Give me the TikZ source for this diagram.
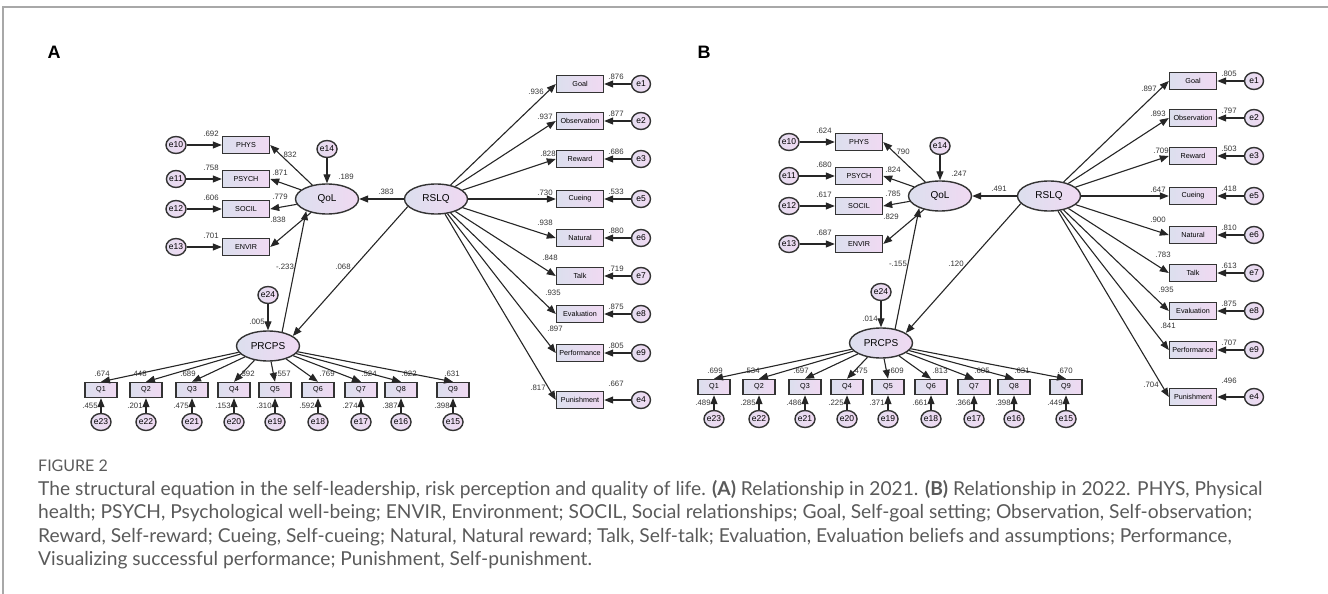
\documentclass[tikz,border=0pt]{standalone}
\usepackage{fontspec}
\setmainfont{Liberation Sans}
\newfontfamily\capfont{Lato}
\usetikzlibrary{arrows.meta, shapes.geometric}
\definecolor{fillL}{HTML}{DCDFEE}
\definecolor{fillR}{HTML}{F0D9F2}
\definecolor{edgegray}{HTML}{333333}
\definecolor{framegray}{HTML}{A8A8A8}
\definecolor{captxt}{HTML}{5A5A5A}
\tikzset{
  obs/.style={draw=edgegray, line width=1.4pt, left color=fillL, right color=fillR,
    minimum width=47pt, minimum height=17pt, inner sep=0pt, font=\fontsize{7.2}{8}\selectfont},
  qbox/.style={obs, minimum width=32pt, minimum height=15pt},
  latent/.style={ellipse, draw=edgegray, line width=1.4pt, left color=fillL, right color=fillR,
    minimum width=63pt, minimum height=30pt, inner sep=0pt, font=\fontsize{10}{11}\selectfont},
  err/.style={ellipse, draw=edgegray, line width=1.4pt, left color=fillL!60!fillR, right color=fillR,
    minimum width=19pt, minimum height=17pt, inner sep=0pt, font=\fontsize{8.5}{9}\selectfont},
  coef/.style={inner sep=0pt, font=\fontsize{7.8}{8}\selectfont, text=edgegray},
  arr/.style={-{Triangle[length=9pt,width=7pt]}, line width=1.1pt, draw=black!85},
  panellbl/.style={inner sep=0pt, font=\bfseries\fontsize{18}{18}\selectfont},
  capline/.style={anchor=base west, inner sep=0pt, text=captxt, font=\capfont\fontsize{19.2}{19}\selectfont}
}

\begin{document}
\begin{tikzpicture}[x=1pt, y=-1pt]
  \useasboundingbox (0,0) rectangle (1328,594);
  \draw[framegray, line width=1.5pt] (3,594) -- (3,7) -- (1328,7);

  % ---- Panel A: 2021 -------------------------------------------------------
  \node[panellbl] (labA) at (54,52) {A};
  \begin{scope}
    \node[latent] (aqol)   at (327,199) {QoL};
    \node[latent] (arslq)  at (436,199) {RSLQ};
    \node[latent] (aprcps) at (268,346) {PRCPS};
    \node[err] (ae14) at (327,149) {e14};
    \node[err] (ae24) at (268,295) {e24};

    \draw[arr] (ae14) -- (aqol);
    \draw[arr] (ae24) -- (aprcps);
    \draw[arr] (arslq) -- (aqol);
    \draw[arr] (aprcps.45) -- (aqol.210);
    \draw[arr] (arslq.195) -- (aprcps.22);

    \node[coef] (ar2qol) at (346,177) {.189};
    \node[coef] (ar2prc) at (257,322) {.005};
    \node[coef] (arq)    at (386,192) {.383};
    \node[coef] (apq)    at (285,267) {-.233};
    \node[coef] (arp)    at (343,267) {.068};

    % quality of life indicators
    \foreach \nm/\txt/\er/\y/\ld/\rr/\lx/\ly in {phys/PHYS/e10/145/.832/.692/289/155,
        psych/PSYCH/e11/179/.871/.758/280/173, socil/SOCIL/e12/209/.779/.606/280/197,
        envir/ENVIR/e13/247/.838/.701/278/220}{
      \node[obs] (a\nm) at (246,\y) {\txt};
      \node[err] (a\er) at (176,\y) {\er};
      \draw[arr] (a\er) -- (a\nm);
      \draw[arr] (aqol) -- (a\nm.east);
      \node[coef] (a\nm-r2) at (211,\y-11) {\rr};
      \node[coef] (a\nm-ld) at (\lx,\ly) {\ld};
    }

    % risk perception items
    \foreach \i/\x/\er/\ld/\rr/\lx in {1/101/e23/.674/.455/102, 2/146/e22/.448/.201/139,
        3/192/e21/.689/.475/188, 4/234/e20/.392/.153/247, 5/275/e19/.557/.310/283,
        6/318/e18/.769/.592/327, 7/361/e17/.524/.274/369, 8/401/e16/.622/.387/409,
        9/453/e15/.631/.398/452}{
      \node[qbox] (aq\i) at (\x,390) {Q\i};
      \node[err] (a\er) at (\x,422) {\er};
      \draw[arr] (aprcps) -- (aq\i.north);
      \draw[arr] (a\er) -- (aq\i);
      \node[coef] (aq\i-ld) at (\lx,374) {\ld};
      \node[coef] (aq\i-r2) at (\x-11,406) {\rr};
    }

    % self-leadership dimensions
    \foreach \nm/\er/\y/\ld/\rr/\lx/\ly/\ry in {Goal/e1/84/.936/.876/536/92/77,
        Observation/e2/121/.937/.877/545/117/114, Reward/e3/159/.828/.686/548/154/152,
        Cueing/e5/199/.730/.533/545/193/192, Natural/e6/238/.938/.880/545/223/231,
        Talk/e7/276/.848/.719/550/258/269, Evaluation/e8/314/.935/.875/553/293/307,
        Performance/e9/353/.897/.805/555/329/346, Punishment/e4/400/.817/.667/538/388/384}{
      \node[obs] (a\nm) at (580,\y) {\nm};
      \node[err] (a\er) at (641,\y) {\er};
      \draw[arr] (arslq) -- (a\nm.west);
      \draw[arr] (a\er) -- (a\nm);
      \node[coef] (a\nm-ld) at (\lx,\ly) {\ld};
      \node[coef] (a\nm-r2) at (616,\ry) {\rr};
    }
  \end{scope}

  % ---- Panel B: 2022 -------------------------------------------------------
  \node[panellbl] (labB) at (704,52) {B};
  \begin{scope}[shift={(613,-3)}]
    \node[latent] (bqol)   at (327,199) {QoL};
    \node[latent] (brslq)  at (436,199) {RSLQ};
    \node[latent] (bprcps) at (268,346) {PRCPS};
    \node[err] (be14) at (327,149) {e14};
    \node[err] (be24) at (268,295) {e24};

    \draw[arr] (be14) -- (bqol);
    \draw[arr] (be24) -- (bprcps);
    \draw[arr] (brslq) -- (bqol);
    \draw[arr] (bprcps.45) -- (bqol.210);
    \draw[arr] (brslq.195) -- (bprcps.22);

    \node[coef] (br2qol) at (346,177) {.247};
    \node[coef] (br2prc) at (257,322) {.014};
    \node[coef] (brq)    at (386,192) {.491};
    \node[coef] (bpq)    at (285,267) {-.155};
    \node[coef] (brp)    at (343,267) {.120};

    % quality of life indicators
    \foreach \nm/\txt/\er/\y/\ld/\rr/\lx/\ly in {phys/PHYS/e10/145/.790/.624/289/155,
        psych/PSYCH/e11/179/.824/.680/280/173, socil/SOCIL/e12/209/.785/.617/280/197,
        envir/ENVIR/e13/247/.829/.687/278/220}{
      \node[obs] (b\nm) at (246,\y) {\txt};
      \node[err] (b\er) at (176,\y) {\er};
      \draw[arr] (b\er) -- (b\nm);
      \draw[arr] (bqol) -- (b\nm.east);
      \node[coef] (b\nm-r2) at (211,\y-11) {\rr};
      \node[coef] (b\nm-ld) at (\lx,\ly) {\ld};
    }

    % risk perception items
    \foreach \i/\x/\er/\ld/\rr/\lx in {1/101/e23/.699/.489/102, 2/146/e22/.534/.285/139,
        3/192/e21/.697/.486/188, 4/234/e20/.475/.225/247, 5/275/e19/.609/.371/283,
        6/318/e18/.813/.661/327, 7/361/e17/.605/.366/369, 8/401/e16/.631/.398/409,
        9/453/e15/.670/.449/452}{
      \node[qbox] (bq\i) at (\x,390) {Q\i};
      \node[err] (b\er) at (\x,422) {\er};
      \draw[arr] (bprcps) -- (bq\i.north);
      \draw[arr] (b\er) -- (bq\i);
      \node[coef] (bq\i-ld) at (\lx,374) {\ld};
      \node[coef] (bq\i-r2) at (\x-11,406) {\rr};
    }

    % self-leadership dimensions
    \foreach \nm/\er/\y/\ld/\rr/\lx/\ly/\ry in {Goal/e1/84/.897/.805/536/92/77,
        Observation/e2/121/.893/.797/545/117/114, Reward/e3/159/.709/.503/548/154/152,
        Cueing/e5/199/.647/.418/545/193/192, Natural/e6/238/.900/.810/545/223/231,
        Talk/e7/276/.783/.613/550/258/269, Evaluation/e8/314/.935/.875/553/293/307,
        Performance/e9/353/.841/.707/555/329/346, Punishment/e4/400/.704/.496/538/388/384}{
      \node[obs] (b\nm) at (580,\y) {\nm};
      \node[err] (b\er) at (641,\y) {\er};
      \draw[arr] (brslq) -- (b\nm.west);
      \draw[arr] (b\er) -- (b\nm);
      \node[coef] (b\nm-ld) at (\lx,\ly) {\ld};
      \node[coef] (b\nm-r2) at (616,\ry) {\rr};
    }
  \end{scope}

  % ---- Caption ---------------------------------------------------------------
  \node[capline, font=\capfont\fontsize{16}{16}\selectfont] (figno) at (38,471) {FIGURE 2};
  \node[capline] (cap1) at (38,495) {The structural equation in the self-leadership, risk perception and quality of life. \textbf{(A)} Relationship in 2021. \textbf{(B)} Relationship in 2022. PHYS, Physical};
  \node[capline] (cap2) at (38,518) {health; PSYCH, Psychological well-being; ENVIR, Environment; SOCIL, Social relationships; Goal, Self-goal setting; Observation, Self-observation;};
  \node[capline] (cap3) at (38,542) {Reward, Self-reward; Cueing, Self-cueing; Natural, Natural reward; Talk, Self-talk; Evaluation, Evaluation beliefs and assumptions; Performance,};
  \node[capline] (cap4) at (38,565) {Visualizing successful performance; Punishment, Self-punishment.};
\end{tikzpicture}
\end{document}
